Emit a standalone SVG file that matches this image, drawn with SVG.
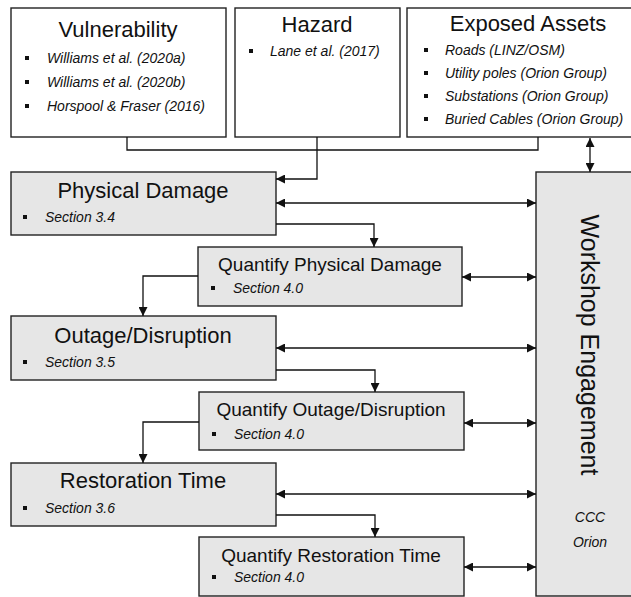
<svg xmlns="http://www.w3.org/2000/svg" width="631" height="597" viewBox="0 0 631 597">
<defs>
<marker id="ah" viewBox="0 0 10 10" refX="10" refY="5" markerWidth="9" markerHeight="9" markerUnits="userSpaceOnUse" orient="auto-start-reverse">
<path d="M0,0 L10,5 L0,10 Z" fill="#111"/>
</marker>
<style>
.w{fill:#fff;stroke:#222;stroke-width:1.4}
.g{fill:#e6e6e6;stroke:#222;stroke-width:1.4}
.t{font-family:"Liberation Sans",Arial,sans-serif;fill:#111;text-anchor:middle}
.b{font-family:"Liberation Sans",Arial,sans-serif;fill:#111;font-style:italic;font-size:14px}
.h1{font-size:22px}
.h2{font-size:19px}
.c{fill:none;stroke:#111;stroke-width:1.3}
.sq{fill:#111}
</style>
</defs>
<rect width="631" height="597" fill="#fff"/>

<g id="vulnerability">
<rect class="w" x="11" y="8" width="215" height="129"/>
<text class="t h1" x="118" y="37">Vulnerability</text>
<rect class="sq" x="25" y="56" width="4" height="4"/>
<text class="b" x="47" y="63">Williams et al. (2020a)</text>
<rect class="sq" x="25" y="80" width="4" height="4"/>
<text class="b" x="47" y="87">Williams et al. (2020b)</text>
<rect class="sq" x="25" y="104" width="4" height="4"/>
<text class="b" x="47" y="111">Horspool &amp; Fraser (2016)</text>
</g>

<g id="hazard">
<rect class="w" x="235" y="8" width="165" height="129"/>
<text class="t h1" x="317" y="32">Hazard</text>
<rect class="sq" x="249" y="49" width="4" height="4"/>
<text class="b" x="270" y="56">Lane et al. (2017)</text>
</g>

<g id="exposed">
<rect class="w" x="407" y="8" width="230" height="129"/>
<text class="t h1" x="528" y="31">Exposed Assets</text>
<rect class="sq" x="424" y="48" width="4" height="4"/>
<text class="b" x="445" y="55">Roads (LINZ/OSM)</text>
<rect class="sq" x="424" y="71" width="4" height="4"/>
<text class="b" x="445" y="78">Utility poles (Orion Group)</text>
<rect class="sq" x="424" y="94" width="4" height="4"/>
<text class="b" x="445" y="101">Substations (Orion Group)</text>
<rect class="sq" x="424" y="117" width="4" height="4"/>
<text class="b" x="445" y="124">Buried Cables (Orion Group)</text>
</g>

<g id="workshop">
<rect class="g" x="536" y="172" width="100" height="424"/>
<text class="t" font-size="25" transform="translate(581,345) rotate(90)">Workshop Engagement</text>
<text class="b" x="590" y="522" text-anchor="middle">CCC</text>
<text class="b" x="590" y="547" text-anchor="middle">Orion</text>
</g>

<g id="physical">
<rect class="g" x="11" y="172" width="265" height="63"/>
<text class="t h1" x="143" y="198">Physical Damage</text>
<rect class="sq" x="23" y="215" width="4" height="4"/>
<text class="b" x="45" y="222">Section 3.4</text>
</g>

<g id="qpd">
<rect class="g" x="198" y="247" width="264" height="59"/>
<text class="t h2" x="330" y="271">Quantify Physical Damage</text>
<rect class="sq" x="211" y="286" width="4" height="4"/>
<text class="b" x="233" y="293">Section 4.0</text>
</g>

<g id="outage">
<rect class="g" x="11" y="316" width="265" height="64"/>
<text class="t h1" x="143" y="343">Outage/Disruption</text>
<rect class="sq" x="23" y="360" width="4" height="4"/>
<text class="b" x="45" y="367">Section 3.5</text>
</g>

<g id="qod">
<rect class="g" x="199" y="392" width="265" height="58"/>
<text class="t h2" x="331" y="416">Quantify Outage/Disruption</text>
<rect class="sq" x="212" y="432" width="4" height="4"/>
<text class="b" x="234" y="439">Section 4.0</text>
</g>

<g id="restoration">
<rect class="g" x="11" y="463" width="265" height="63"/>
<text class="t h1" x="143" y="488">Restoration Time</text>
<rect class="sq" x="23" y="506" width="4" height="4"/>
<text class="b" x="45" y="513">Section 3.6</text>
</g>

<g id="qrt">
<rect class="g" x="199" y="537" width="265" height="59"/>
<text class="t h2" x="331" y="562">Quantify Restoration Time</text>
<rect class="sq" x="212" y="575" width="4" height="4"/>
<text class="b" x="234" y="582">Section 4.0</text>
</g>

<g id="connectors">
<path class="c" d="M127,137 V150 H538 V137"/>
<path class="c" d="M317,137 V179 H276" marker-end="url(#ah)"/>
<path class="c" d="M590,138 V172" marker-start="url(#ah)" marker-end="url(#ah)"/>
<path class="c" d="M276,203 H536" marker-start="url(#ah)" marker-end="url(#ah)"/>
<path class="c" d="M276,224 H374 V247" marker-end="url(#ah)"/>
<path class="c" d="M462,277 H536" marker-start="url(#ah)" marker-end="url(#ah)"/>
<path class="c" d="M198,276 H143 V316" marker-end="url(#ah)"/>
<path class="c" d="M276,348 H536" marker-start="url(#ah)" marker-end="url(#ah)"/>
<path class="c" d="M276,370 H375 V392" marker-end="url(#ah)"/>
<path class="c" d="M464,423 H536" marker-start="url(#ah)" marker-end="url(#ah)"/>
<path class="c" d="M199,422 H143 V463" marker-end="url(#ah)"/>
<path class="c" d="M276,494 H536" marker-start="url(#ah)" marker-end="url(#ah)"/>
<path class="c" d="M276,515 H375 V537" marker-end="url(#ah)"/>
<path class="c" d="M464,567 H536" marker-start="url(#ah)" marker-end="url(#ah)"/>
</g>
</svg>
